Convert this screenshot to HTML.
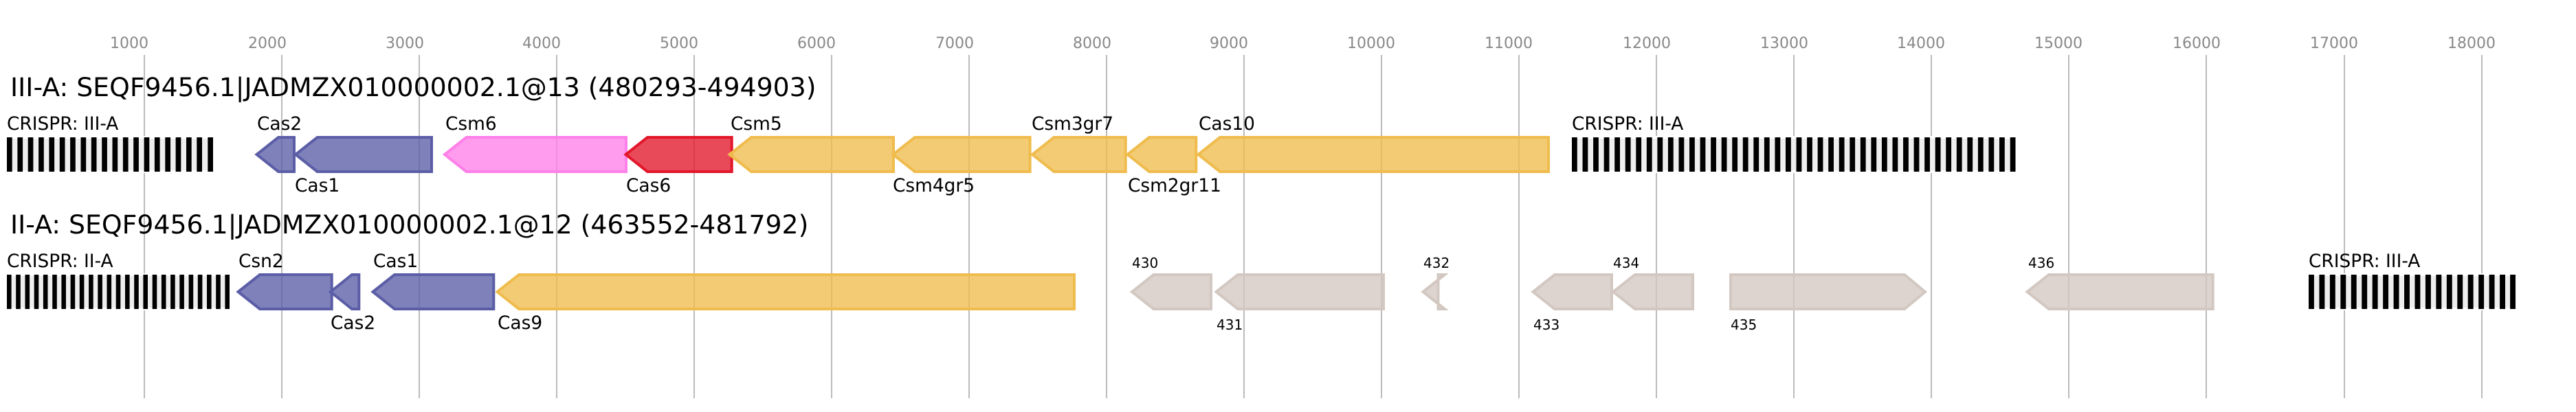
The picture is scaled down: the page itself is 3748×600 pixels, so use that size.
<!DOCTYPE html>
<html><head><meta charset="utf-8"><style>
html,body{margin:0;padding:0;background:#fff}
svg{display:block}
text{font-family:"DejaVu Sans",sans-serif}
.a{font-size:22px;fill:#888}
.t{font-size:37.8px;fill:#000}
.l{font-size:26.4px;fill:#000}
.s{font-size:20px;fill:#000}
.g{stroke-width:4;fill-opacity:.78;stroke-linejoin:miter}
.p{fill:#5b5ea6;stroke:#5b5ea6}.y{fill:#efbc4d;stroke:#efbc4d}.r{fill:#e3172b;stroke:#e3172b}.k{fill:#ff80e8;stroke:#ff80e8}.n{fill:#d3c8c1;stroke:#d3c8c1}
</style></head><body>
<svg xmlns="http://www.w3.org/2000/svg" width="3748" height="600" viewBox="0 0 3748 600">
<rect width="3748" height="600" fill="#fff"/>
<g stroke="#bbb" stroke-width="2">
<path d="M210 80V580M410 80V580M610 80V580M810 80V580M1010 80V580M1210 80V580M1410 80V580M1610 80V580M1810 80V580M2010 80V580M2210 80V580M2410 80V580M2610 80V580M2810 80V580M3010 80V580M3210 80V580M3411 80V580M3611 80V580"/>
</g>
<g class="a">
<text class="a" x="160" y="70">1000</text><text class="a" x="361" y="70">2000</text><text class="a" x="561" y="70">3000</text><text class="a" x="760" y="70">4000</text><text class="a" x="960" y="70">5000</text><text class="a" x="1160" y="70">6000</text><text class="a" x="1361" y="70">7000</text><text class="a" x="1561" y="70">8000</text><text class="a" x="1760" y="70">9000</text><text class="a" x="1960" y="70">10000</text><text class="a" x="2160" y="70">11000</text><text class="a" x="2361" y="70">12000</text><text class="a" x="2561" y="70">13000</text><text class="a" x="2760" y="70">14000</text><text class="a" x="2960" y="70">15000</text><text class="a" x="3161" y="70">16000</text><text class="a" x="3361" y="70">17000</text><text class="a" x="3561" y="70">18000</text>
</g>
<text class="t" x="15" y="140">III-A: SEQF9456.1|JADMZX010000002.1@13 (480293-494903)</text>
<text class="t" x="15" y="340">II-A: SEQF9456.1|JADMZX010000002.1@12 (463552-481792)</text>

<rect x="10" y="200" width="300" height="50" fill="#eee" stroke="#fff" stroke-width="4"/>
<rect x="10" y="400" width="324" height="50" fill="#eee" stroke="#fff" stroke-width="4"/>
<rect x="2287" y="200" width="645.5" height="50" fill="#eee" stroke="#fff" stroke-width="4"/>
<rect x="3359" y="400" width="301" height="50" fill="#eee" stroke="#fff" stroke-width="4"/>
<g fill="#000" stroke="none">
<rect x="10" y="200" width="7.7" height="50"/><rect x="25.4" y="200" width="7.7" height="50"/><rect x="40.7" y="200" width="7.7" height="50"/><rect x="56.1" y="200" width="7.7" height="50"/><rect x="71.4" y="200" width="7.7" height="50"/><rect x="86.8" y="200" width="7.7" height="50"/><rect x="102.1" y="200" width="7.7" height="50"/><rect x="117.5" y="200" width="7.7" height="50"/><rect x="132.8" y="200" width="7.7" height="50"/><rect x="148.2" y="200" width="7.7" height="50"/><rect x="163.5" y="200" width="7.7" height="50"/><rect x="178.9" y="200" width="7.7" height="50"/><rect x="194.2" y="200" width="7.7" height="50"/><rect x="209.6" y="200" width="7.7" height="50"/><rect x="224.9" y="200" width="7.7" height="50"/><rect x="240.3" y="200" width="7.7" height="50"/><rect x="255.6" y="200" width="7.7" height="50"/><rect x="271" y="200" width="7.7" height="50"/><rect x="286.3" y="200" width="7.7" height="50"/><rect x="302.3" y="200" width="7.7" height="50"/>
<rect x="10" y="400" width="6.6" height="50"/><rect x="23.2" y="400" width="6.6" height="50"/><rect x="36.5" y="400" width="6.6" height="50"/><rect x="49.7" y="400" width="6.6" height="50"/><rect x="62.9" y="400" width="6.6" height="50"/><rect x="76.2" y="400" width="6.6" height="50"/><rect x="89.4" y="400" width="6.6" height="50"/><rect x="102.6" y="400" width="6.6" height="50"/><rect x="115.8" y="400" width="6.6" height="50"/><rect x="129.1" y="400" width="6.6" height="50"/><rect x="142.3" y="400" width="6.6" height="50"/><rect x="155.5" y="400" width="6.6" height="50"/><rect x="168.7" y="400" width="6.6" height="50"/><rect x="182" y="400" width="6.6" height="50"/><rect x="195.2" y="400" width="6.6" height="50"/><rect x="208.4" y="400" width="6.6" height="50"/><rect x="221.7" y="400" width="6.6" height="50"/><rect x="234.9" y="400" width="6.6" height="50"/><rect x="248.1" y="400" width="6.6" height="50"/><rect x="261.3" y="400" width="6.6" height="50"/><rect x="274.6" y="400" width="6.6" height="50"/><rect x="287.8" y="400" width="6.6" height="50"/><rect x="301" y="400" width="6.6" height="50"/><rect x="314.2" y="400" width="6.6" height="50"/><rect x="327.4" y="400" width="6.6" height="50"/>
<rect x="2287" y="200" width="7.8" height="50"/><rect x="2302.55" y="200" width="7.8" height="50"/><rect x="2318.1" y="200" width="7.8" height="50"/><rect x="2333.65" y="200" width="7.8" height="50"/><rect x="2349.2" y="200" width="7.8" height="50"/><rect x="2364.75" y="200" width="7.8" height="50"/><rect x="2380.3" y="200" width="7.8" height="50"/><rect x="2395.85" y="200" width="7.8" height="50"/><rect x="2411.4" y="200" width="7.8" height="50"/><rect x="2426.95" y="200" width="7.8" height="50"/><rect x="2442.5" y="200" width="7.8" height="50"/><rect x="2458.05" y="200" width="7.8" height="50"/><rect x="2473.6" y="200" width="7.8" height="50"/><rect x="2489.15" y="200" width="7.8" height="50"/><rect x="2504.7" y="200" width="7.8" height="50"/><rect x="2520.25" y="200" width="7.8" height="50"/><rect x="2535.8" y="200" width="7.8" height="50"/><rect x="2551.35" y="200" width="7.8" height="50"/><rect x="2566.9" y="200" width="7.8" height="50"/><rect x="2582.45" y="200" width="7.8" height="50"/><rect x="2598" y="200" width="7.8" height="50"/><rect x="2613.55" y="200" width="7.8" height="50"/><rect x="2629.1" y="200" width="7.8" height="50"/><rect x="2644.65" y="200" width="7.8" height="50"/><rect x="2660.2" y="200" width="7.8" height="50"/><rect x="2675.75" y="200" width="7.8" height="50"/><rect x="2691.3" y="200" width="7.8" height="50"/><rect x="2706.85" y="200" width="7.8" height="50"/><rect x="2722.4" y="200" width="7.8" height="50"/><rect x="2737.95" y="200" width="7.8" height="50"/><rect x="2753.5" y="200" width="7.8" height="50"/><rect x="2769.05" y="200" width="7.8" height="50"/><rect x="2784.6" y="200" width="7.8" height="50"/><rect x="2800.15" y="200" width="7.8" height="50"/><rect x="2815.7" y="200" width="7.8" height="50"/><rect x="2831.25" y="200" width="7.8" height="50"/><rect x="2846.8" y="200" width="7.8" height="50"/><rect x="2862.35" y="200" width="7.8" height="50"/><rect x="2877.9" y="200" width="7.8" height="50"/><rect x="2893.45" y="200" width="7.8" height="50"/><rect x="2909" y="200" width="7.8" height="50"/><rect x="2924.7" y="200" width="7.8" height="50"/>
<rect x="3359" y="400" width="7.9" height="50"/><rect x="3374.45" y="400" width="7.9" height="50"/><rect x="3389.9" y="400" width="7.9" height="50"/><rect x="3405.35" y="400" width="7.9" height="50"/><rect x="3420.8" y="400" width="7.9" height="50"/><rect x="3436.25" y="400" width="7.9" height="50"/><rect x="3451.7" y="400" width="7.9" height="50"/><rect x="3467.15" y="400" width="7.9" height="50"/><rect x="3482.6" y="400" width="7.9" height="50"/><rect x="3498.05" y="400" width="7.9" height="50"/><rect x="3513.5" y="400" width="7.9" height="50"/><rect x="3528.95" y="400" width="7.9" height="50"/><rect x="3544.4" y="400" width="7.9" height="50"/><rect x="3559.85" y="400" width="7.9" height="50"/><rect x="3575.3" y="400" width="7.9" height="50"/><rect x="3590.75" y="400" width="7.9" height="50"/><rect x="3606.2" y="400" width="7.9" height="50"/><rect x="3621.65" y="400" width="7.9" height="50"/><rect x="3637.1" y="400" width="7.9" height="50"/><rect x="3652.1" y="400" width="7.9" height="50"/>
</g>

<path class="g p" d="M373.5 225L405 200H428V250H405Z"/>
<path class="g p" d="M430.1 225L461.6 200H628V250H461.6Z"/>
<path class="g k" d="M647 225L678.5 200H911V250H678.5Z"/>
<path class="g r" d="M910.5 225L942 200H1064.7V250H942Z"/>
<path class="g y" d="M1061.5 225L1093 200H1300V250H1093Z"/>
<path class="g y" d="M1299.5 225L1331 200H1498.6V250H1331Z"/>
<path class="g y" d="M1502 225L1533.5 200H1637.7V250H1533.5Z"/>
<path class="g y" d="M1640.5 225L1672 200H1740.3V250H1672Z"/>
<path class="g y" d="M1743.5 225L1775 200H2253V250H1775Z"/>

<path class="g p" d="M346.5 425L378 400H482.7V450H378Z"/>
<path class="g p" d="M480.9 425L512 400H522.3V450H512Z"/>
<path class="g p" d="M542.5 425L574 400H718.3V450H574Z"/>
<path class="g y" d="M723.5 425L755 400H1563V450H755Z"/>
<path class="g n" d="M1647 425L1678.5 400H1762V450H1678.5Z"/>
<path class="g n" d="M1769.5 425L1801 400H2013V450H1801Z"/>
<path class="g n" d="M2070.5 425L2102 400H2092.5V450H2102Z"/>
<path class="g n" d="M2230.5 425L2262 400H2345V450H2262Z"/>
<path class="g n" d="M2347.2 425L2378.7 400H2463V450H2378.7Z"/>
<path class="g n" d="M2518 400H2771L2801 425L2771 450H2518Z"/>
<path class="g n" d="M2949.5 425L2981 400H3219.7V450H2981Z"/>

<text class="l" x="10" y="189">CRISPR: III-A</text>
<text class="l" x="374" y="189">Cas2</text>
<text class="l" x="648" y="189">Csm6</text>
<text class="l" x="1063" y="189">Csm5</text>
<text class="l" x="1501" y="189">Csm3gr7</text>
<text class="l" x="1744" y="189">Cas10</text>
<text class="l" x="2287" y="189">CRISPR: III-A</text>
<text class="l" x="429" y="279">Cas1</text>
<text class="l" x="911" y="279">Cas6</text>
<text class="l" x="1299" y="279">Csm4gr5</text>
<text class="l" x="1641" y="279">Csm2gr11</text>
<text class="l" x="10" y="389">CRISPR: II-A</text>
<text class="l" x="347" y="389">Csn2</text>
<text class="l" x="543" y="389">Cas1</text>
<text class="l" x="3359" y="389">CRISPR: III-A</text>
<text class="l" x="481" y="479">Cas2</text>
<text class="l" x="724" y="479">Cas9</text>
<text class="s" x="1647" y="390">430</text>
<text class="s" x="2071" y="390">432</text>
<text class="s" x="2347" y="390">434</text>
<text class="s" x="2951" y="390">436</text>
<text class="s" x="1770" y="480">431</text>
<text class="s" x="2231" y="480">433</text>
<text class="s" x="2518" y="480">435</text>
</svg>
</body></html>
